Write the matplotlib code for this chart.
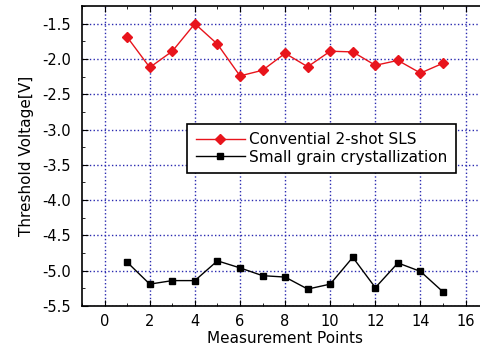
import numpy as np
import matplotlib.pyplot as plt
from matplotlib.ticker import MultipleLocator

plt.rcParams['font.family'] = ['DejaVu Sans']

points = [1, 2, 3, 4, 5, 6, 7, 8, 9, 10, 11, 12, 13, 14, 15]
sls = [-1.69, -2.12, -1.89, -1.50, -1.79, -2.24, -2.16, -1.92, -2.11, -1.89,
       -1.90, -2.09, -2.02, -2.20, -2.06]
small_grain = [-4.88, -5.19, -5.14, -5.14, -4.86, -4.96, -5.07, -5.09, -5.26, -5.19,
               -4.81, -5.24, -4.89, -5.01, -5.30]
xticks = [0, 2, 4, 6, 8, 10, 12, 14, 16]
yticks = [-5.5, -5.0, -4.5, -4.0, -3.5, -3.0, -2.5, -2.0, -1.5]

fig = plt.figure(figsize=(4.8, 3.55), dpi=100)
# right spine sits just past the image edge, like the reference crop
ax = fig.add_axes([0.171, 0.138, 0.846, 0.845])

ax.plot(points, sls, color='#e8141c', lw=1, marker='D', ms=5,
        label='Convential 2-shot SLS')
ax.plot(points, small_grain, color='black', lw=1, marker='s', ms=5,
        label='Small grain crystallization')

ax.set_xlim(-1, 17)
ax.set_ylim(-5.5, -1.25)
ax.set_xticks(xticks)
ax.set_yticks(yticks)
ax.set_yticklabels(['%.1f' % v for v in yticks])
ax.xaxis.set_minor_locator(MultipleLocator(1))
ax.yaxis.set_minor_locator(MultipleLocator(0.25))
ax.tick_params(which='both', direction='in', top=True, right=True, labelsize=10.5)
ax.tick_params(axis='y', pad=8)
ax.tick_params(axis='x', pad=6)
ax.tick_params(which='major', length=4)
ax.tick_params(which='minor', length=2)
ax.grid(True, which='major', color='#2a2ab0', ls=':', lw=1)
for s in ax.spines.values():
    s.set_linewidth(1.2)

ax.set_xlabel('Measurement Points', fontsize=11, labelpad=1)
ax.set_ylabel('Threshold Voltage[V]', fontsize=11, labelpad=6)

leg = ax.legend(loc='upper left', bbox_to_anchor=(0.259, 0.607), fancybox=False,
                edgecolor='black', framealpha=1, fontsize=11, handlelength=3.2,
                borderaxespad=0, handletextpad=0.3, labelspacing=0.15, borderpad=0.55)
leg.get_frame().set_linewidth(1.2)

fig.savefig('out.png')
